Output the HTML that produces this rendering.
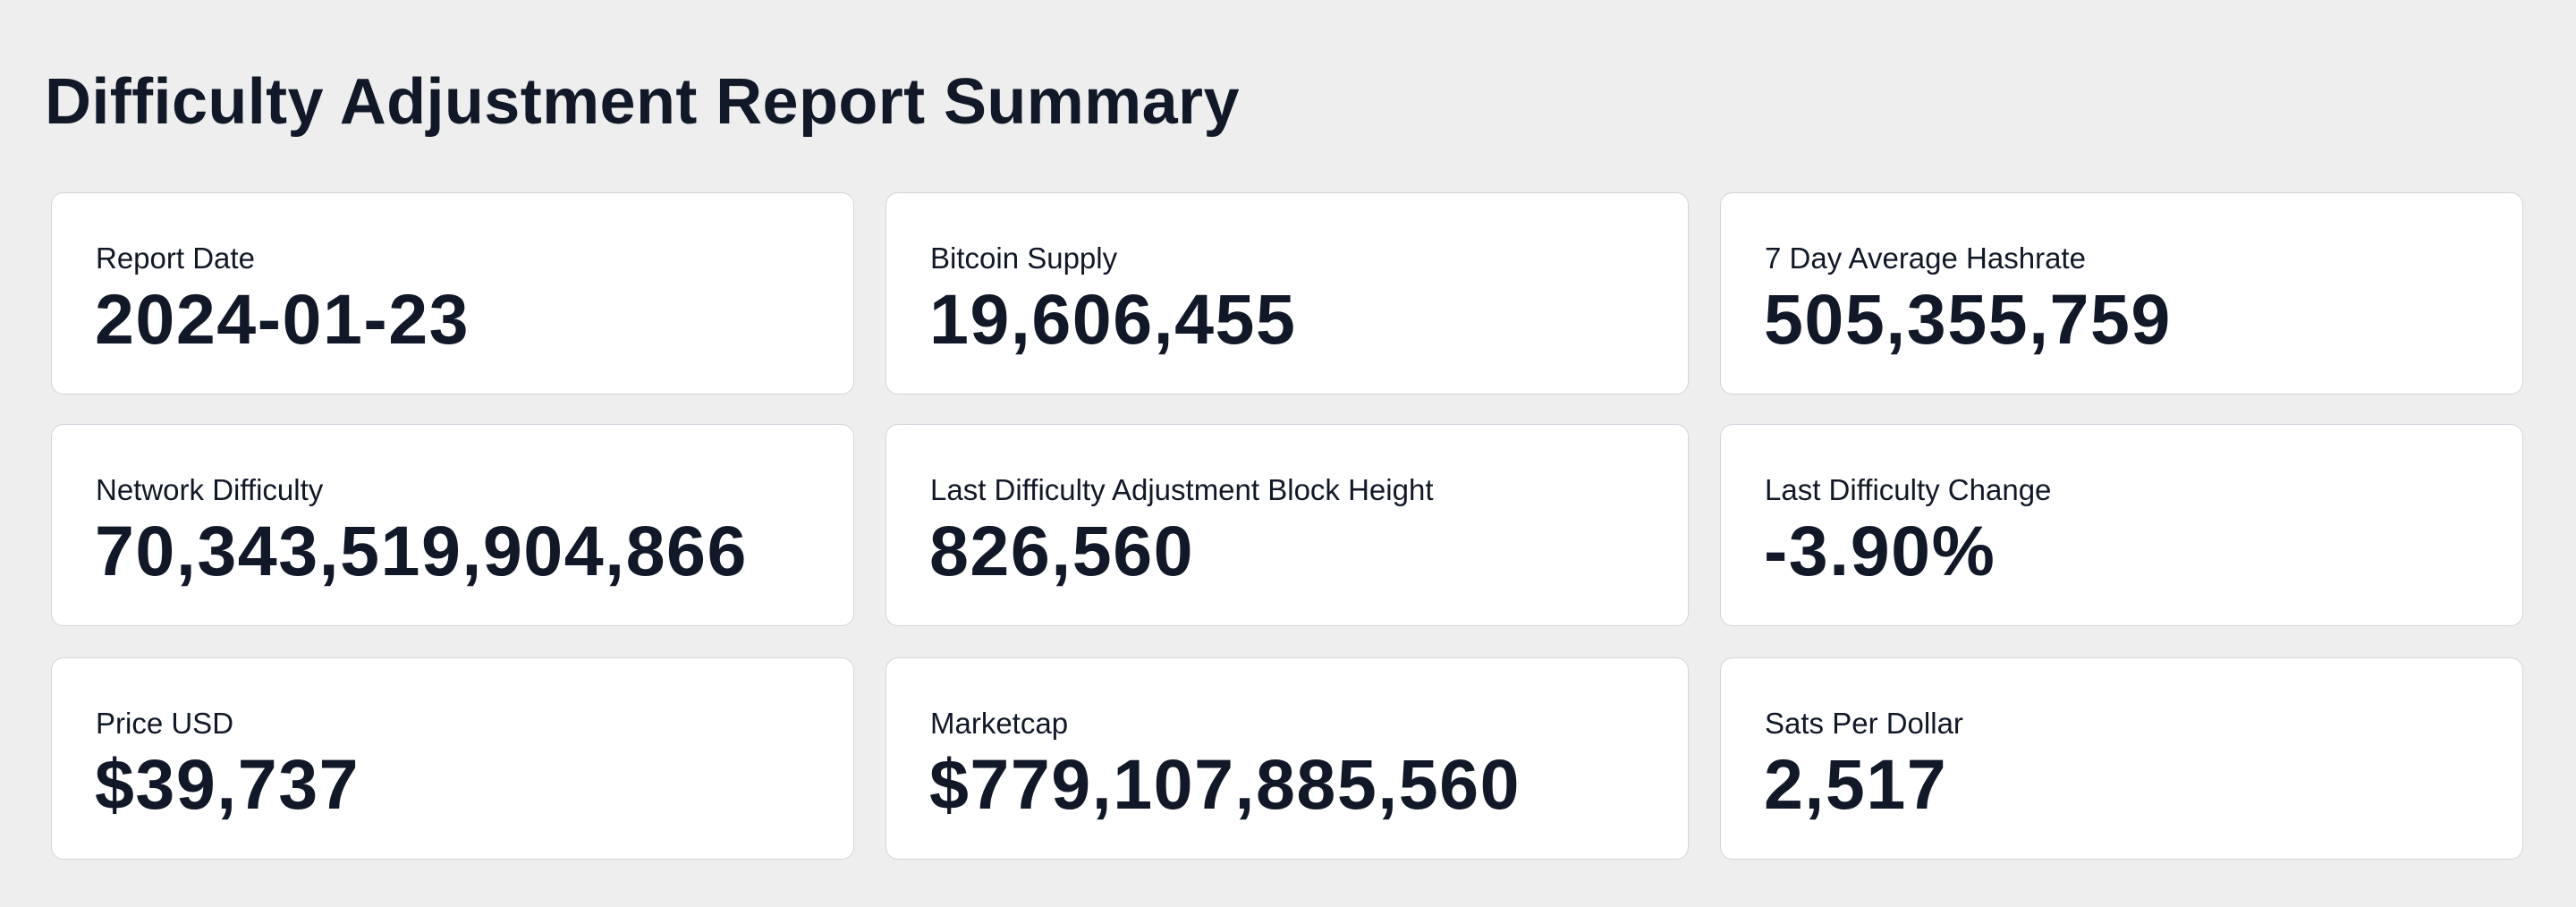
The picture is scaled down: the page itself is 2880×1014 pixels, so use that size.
<!DOCTYPE html>
<html><head><meta charset="utf-8">
<style>
html,body{margin:0;padding:0;}
body{width:2880px;height:1014px;background:#eeeeee;font-family:"Liberation Sans",sans-serif;color:#111827;position:relative;overflow:hidden;}
h1{position:absolute;left:50px;top:78px;margin:0;font-size:72px;font-weight:bold;line-height:1;letter-spacing:0.4px;}
.card{position:absolute;width:896px;height:224px;background:#fff;border:1px solid #d1d5db;border-radius:14px;box-sizing:content-box;}
.lab{position:absolute;left:49px;top:56px;font-size:33px;line-height:1;}
.val{position:absolute;left:48px;top:101px;font-size:79px;font-weight:bold;line-height:1;letter-spacing:1.5px;}
</style></head>
<body>
<h1>Difficulty Adjustment Report Summary</h1>

<div class="card" style="left:57px;top:215px"><div class="lab">Report Date</div><div class="val">2024-01-23</div></div>
<div class="card" style="left:990px;top:215px"><div class="lab">Bitcoin Supply</div><div class="val">19,606,455</div></div>
<div class="card" style="left:1923px;top:215px"><div class="lab">7 Day Average Hashrate</div><div class="val">505,355,759</div></div>

<div class="card" style="left:57px;top:474px"><div class="lab">Network Difficulty</div><div class="val">70,343,519,904,866</div></div>
<div class="card" style="left:990px;top:474px"><div class="lab">Last Difficulty Adjustment Block Height</div><div class="val">826,560</div></div>
<div class="card" style="left:1923px;top:474px"><div class="lab">Last Difficulty Change</div><div class="val">-3.90%</div></div>

<div class="card" style="left:57px;top:735px"><div class="lab">Price USD</div><div class="val">$39,737</div></div>
<div class="card" style="left:990px;top:735px"><div class="lab">Marketcap</div><div class="val">$779,107,885,560</div></div>
<div class="card" style="left:1923px;top:735px"><div class="lab">Sats Per Dollar</div><div class="val">2,517</div></div>
</body></html>
